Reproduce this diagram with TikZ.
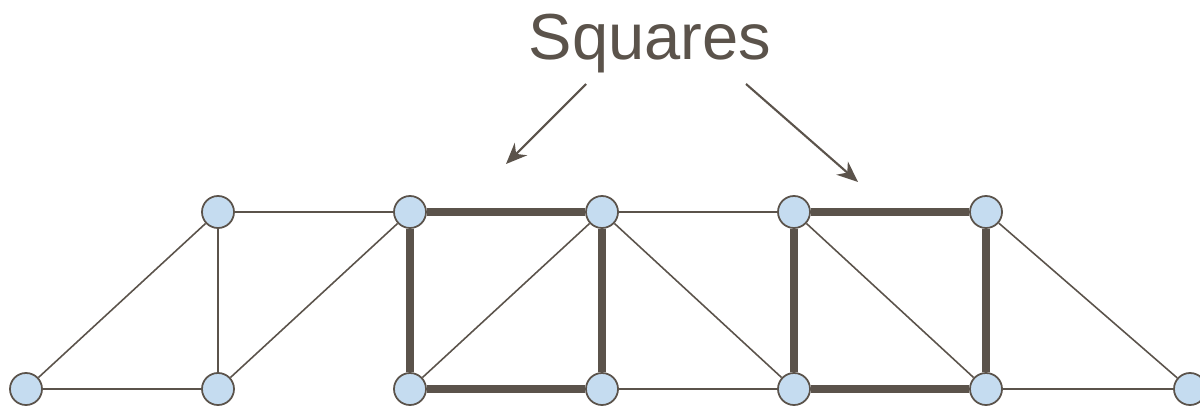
\documentclass[tikz,border=0pt]{standalone}
\usepackage{fontspec}
\setmainfont{Liberation Sans}
\usetikzlibrary{arrows.meta}
\definecolor{trait}{HTML}{5B534B}
\definecolor{bulle}{HTML}{C5DCF0}
\newcommand{\sommet}[3]{\node[vtx] (#1) at (#2,#3) {}}
\newcommand{\lien}[2]{\draw (#1) -- (#2)}
\newcommand{\cote}[2]{\draw[carre] (#1) -- (#2)}

\begin{document}
\begin{tikzpicture}[x=0.01cm,y=-0.01cm,draw=trait,line width=0.45pt,
	vtx/.style={circle,draw=trait,fill=bulle,line width=0.5pt,minimum size=0.32cm,inner sep=0pt},
	carre/.style={line width=2pt},
	fleche/.style={-{Stealth[length=6pt,width=5pt]},line width=0.6pt,fill=trait}]
\useasboundingbox (0,0) rectangle (1200,406);
%
	\sommet{b0}{26}{389};
	\sommet{b1}{218}{389};
	\sommet{b2}{410}{389};
	\sommet{b3}{602}{389};
	\sommet{b4}{794}{389};
	\sommet{b5}{986}{389};
	\sommet{b6}{1190}{389};
	\sommet{t1}{218}{212};
	\sommet{t2}{410}{212};
	\sommet{t3}{602}{212};
	\sommet{t4}{794}{212};
	\sommet{t5}{986}{212};
%
	\lien{b0}{b1};
	\lien{b3}{b4};
	\lien{b5}{b6};
	\lien{t1}{t2};
	\lien{t3}{t4};
	\lien{b0}{t1};
	\lien{t1}{b1};
	\lien{b1}{t2};
	\lien{b2}{t3};
	\lien{t3}{b4};
	\lien{t4}{b5};
	\lien{t5}{b6};
%
	\cote{t2}{t3};
	\cote{b2}{b3};
	\cote{t2}{b2};
	\cote{t3}{b3};
	\cote{t4}{t5};
	\cote{b4}{b5};
	\cote{t4}{b4};
	\cote{t5}{b5};
%
	\node[text=trait,font=\fontsize{18.5}{20}\selectfont,anchor=base] (sq) at (650,60) {Squares};
	\coordinate (ga) at (586,84);
	\coordinate (gb) at (506,164);
	\coordinate (da) at (746,84);
	\coordinate (db) at (858,182);
	\draw[fleche] (ga) -- (gb);
	\draw[fleche] (da) -- (db);
%
\end{tikzpicture}
\end{document}
